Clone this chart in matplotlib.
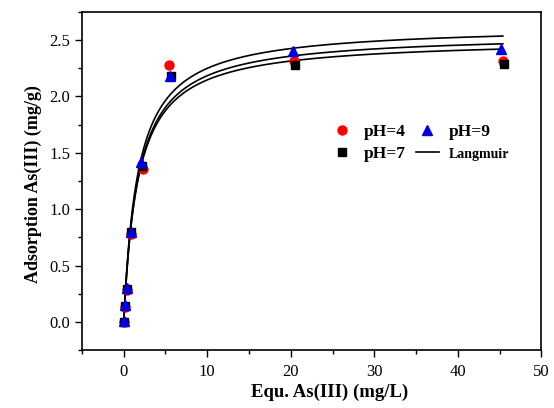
import numpy as np
import matplotlib.pyplot as plt
from matplotlib.ticker import MultipleLocator

plt.rcParams['font.family'] = ['Liberation Serif', 'DejaVu Serif']

# equilibrium concentration (mg/L) and adsorbed amount (mg/g)
c_ph4 = [0, 0.15, 0.4, 0.9, 2.3, 5.4, 20.4, 45.4]
q_ph4 = [0.0, 0.13, 0.28, 0.78, 1.36, 2.28, 2.31, 2.31]
c_ph7 = [0, 0.15, 0.4, 0.9, 2.2, 5.6, 20.5, 45.5]
q_ph7 = [0.0, 0.14, 0.29, 0.80, 1.38, 2.18, 2.28, 2.29]
c_ph9 = [0, 0.15, 0.35, 0.85, 2.1, 5.5, 20.3, 45.2]
q_ph9 = [0.01, 0.15, 0.30, 0.80, 1.42, 2.18, 2.40, 2.42]

# Langmuir fit parameters (qm in mg/g, K in L/mg)
qm_fit = [2.63, 2.56, 2.51]
k_fit = [0.59, 0.58, 0.59]

fig = plt.figure(figsize=(5.54, 4.08), dpi=100)
ax = fig.add_axes([0.148, 0.142, 0.829, 0.829])

c = np.linspace(0, 45.4, 400)
for i in range(len(qm_fit)):
    q = qm_fit[i]*k_fit[i]*c/(1 + k_fit[i]*c)
    ln, = ax.plot(c, q, color='black', lw=1.2, zorder=2)

p4, = ax.plot(c_ph4, q_ph4, 'o', color='red', ms=6.5, ls='none', zorder=3)
p7, = ax.plot(c_ph7, q_ph7, 's', color='black', ms=6, ls='none', zorder=4)
p9, = ax.plot(c_ph9, q_ph9, '^', color='#0000dd', ms=7, ls='none', zorder=5)

ax.set_xlim(-5, 50)
ax.set_ylim(-0.25, 2.75)
ax.xaxis.set_major_locator(MultipleLocator(10))
ax.xaxis.set_minor_locator(MultipleLocator(5))
ax.yaxis.set_major_locator(MultipleLocator(0.5))
ax.yaxis.set_minor_locator(MultipleLocator(0.25))
ax.tick_params(which='both', direction='out', top=False, right=False, labelsize=12)
ax.tick_params(which='major', length=5, width=1)
ax.tick_params(which='minor', length=3, width=1)
ax.tick_params(axis='x', pad=5)
for s in ax.spines.values():
    s.set_linewidth(1.2)

ax.set_xlabel('Equ. As(III) (mg/L)', fontsize=13.5, fontweight='bold', labelpad=3)
ax.set_ylabel('Adsorption As(III) (mg/g)', fontsize=13, fontweight='bold', labelpad=5)
ax.xaxis.label.set_x(0.54)
ax.yaxis.label.set_y(0.49)

leg = fig.legend([p4, p7, p9, ln], ['pH=4', 'pH=7', 'pH=9', 'Langmuir'],
                 ncol=2, loc='center', bbox_to_anchor=(420/554, 1 - 143/408),
                 frameon=False, handlelength=1.3, handletextpad=0.6,
                 columnspacing=0.6, labelspacing=0.3,
                 prop={'weight': 'bold', 'size': 12.5})
leg.get_texts()[3].set_fontsize(10)

fig.savefig('out.png', dpi=100)
